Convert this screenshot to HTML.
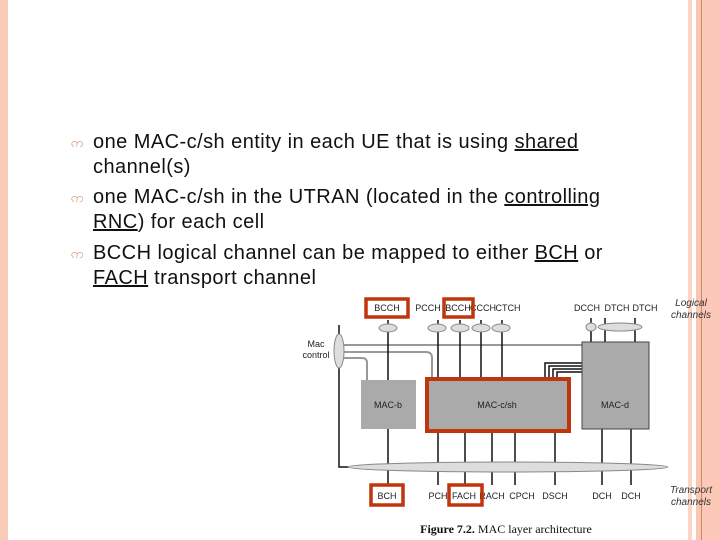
<!DOCTYPE html>
<html><head><meta charset="utf-8"><style>
body{margin:0;width:720px;height:540px;overflow:hidden;background:#fff;position:relative;font-family:"Liberation Sans",sans-serif}
.s{position:absolute;top:0;height:540px}
.t{position:absolute;left:93px;font-size:20px;letter-spacing:0.45px;color:#111;line-height:25px;white-space:nowrap}
.b{position:absolute;left:71px;font-size:13px;color:#d89a7a}
u{text-decoration:underline}
</style></head><body>
<div class="s" style="left:0;width:8px;background:#f9cbb8"></div>
<div class="s" style="left:688px;width:4px;background:#fbd5c6"></div>
<div class="s" style="left:696px;width:5px;background:#f9c6b2"></div>
<div class="s" style="left:701px;width:1px;background:#c98a6a"></div>
<div class="s" style="left:702px;width:18px;background:#fcc8b8"></div>
<div class="b" style="top:135px">ဢ</div>
<div class="t" style="top:130px">one MAC-c/sh entity in each UE that is using <u>shared</u></div>
<div class="t" style="top:155px">channel(s)</div>
<div class="b" style="top:190px">ဢ</div>
<div class="t" style="top:185px">one MAC-c/sh in the UTRAN (located in the <u>controlling</u></div>
<div class="t" style="top:210px"><u>RNC</u>) for each cell</div>
<div class="b" style="top:246px">ဢ</div>
<div class="t" style="top:241px">BCCH logical channel can be mapped to either <u>BCH</u> or</div>
<div class="t" style="top:266px"><u>FACH</u> transport channel</div>
<svg width="720" height="540" style="position:absolute;left:0;top:0" font-family="Liberation Sans,sans-serif">
<g stroke="#999" stroke-width="2" fill="none">
<path d="M340 345 H582"/>
<path d="M340 352 H426 q6 0 6 6 V377"/>
<path d="M340 358 H362 q5 0 5 5 V380"/>
</g>
<g stroke="#111" stroke-width="1.5" fill="none">
<path d="M545 377 V363 H582 M549 377 V366 H582 M553 377 V369 H582 M557 377 V372 H582"/>
<path d="M388 320 V380 M438 320 V377 M460 320 V377 M481 320 V377 M502 320 V377"/>
<path d="M591 318 V342 M605 318 V342 M635 318 V342"/>
<path d="M339 325 V467 H665"/>
<path d="M388 429 V485 M438 433 V485 M465 433 V485 M492 433 V485 M515 433 V485 M555 433 V485 M602 429 V485 M631 429 V485"/>
</g>
<g fill="#ddd" stroke="#888" stroke-width="1">
<ellipse cx="388" cy="328" rx="9" ry="4"/>
<ellipse cx="437" cy="328" rx="9" ry="4"/><ellipse cx="460" cy="328" rx="9" ry="4"/>
<ellipse cx="481" cy="328" rx="9" ry="4"/><ellipse cx="501" cy="328" rx="9" ry="4"/>
<ellipse cx="591" cy="327" rx="5" ry="4"/><ellipse cx="620" cy="327" rx="22" ry="4"/>
<ellipse cx="339" cy="351" rx="5" ry="17"/>
<ellipse cx="508" cy="467" rx="160" ry="5"/>
</g>
<rect x="361" y="380" width="55" height="49" fill="#aaa"/>
<rect x="427" y="379" width="142" height="52" fill="#aaa" stroke="#c0360c" stroke-width="4"/>
<rect x="582" y="342" width="67" height="87" fill="#aaa" stroke="#444" stroke-width="1"/>
<g font-size="9" fill="#222" text-anchor="middle">
<text x="388" y="408">MAC-b</text><text x="497" y="408">MAC-c/sh</text><text x="615" y="408">MAC-d</text>
<text x="387" y="311">BCCH</text><text x="428" y="311">PCCH</text><text x="458" y="311">BCCH</text>
<text x="483" y="311">CCCH</text><text x="508" y="311">CTCH</text>
<text x="587" y="311">DCCH</text><text x="617" y="311">DTCH</text><text x="645" y="311">DTCH</text>
<text x="316" y="347">Mac</text><text x="316" y="358">control</text>
<text x="387" y="499">BCH</text><text x="438" y="499">PCH</text><text x="464" y="499">FACH</text>
<text x="492" y="499">RACH</text><text x="522" y="499">CPCH</text><text x="555" y="499">DSCH</text>
<text x="602" y="499">DCH</text><text x="631" y="499">DCH</text>
</g>
<g font-size="10" fill="#333" font-style="italic" text-anchor="middle">
<text x="691" y="306">Logical</text><text x="691" y="318">channels</text>
<text x="691" y="493">Transport</text><text x="691" y="505">channels</text>
</g>
<g fill="none" stroke="#c0360c" stroke-width="3.5">
<rect x="366" y="299" width="42" height="18"/><rect x="444" y="299" width="29" height="18"/>
<rect x="371" y="485" width="32" height="20"/><rect x="449" y="485" width="33" height="20"/>
</g>
<text x="506" y="533" font-family="Liberation Serif,serif" font-size="12" text-anchor="middle" fill="#111"><tspan font-weight="bold">Figure 7.2.</tspan> MAC layer architecture</text>
</svg>
</body></html>
